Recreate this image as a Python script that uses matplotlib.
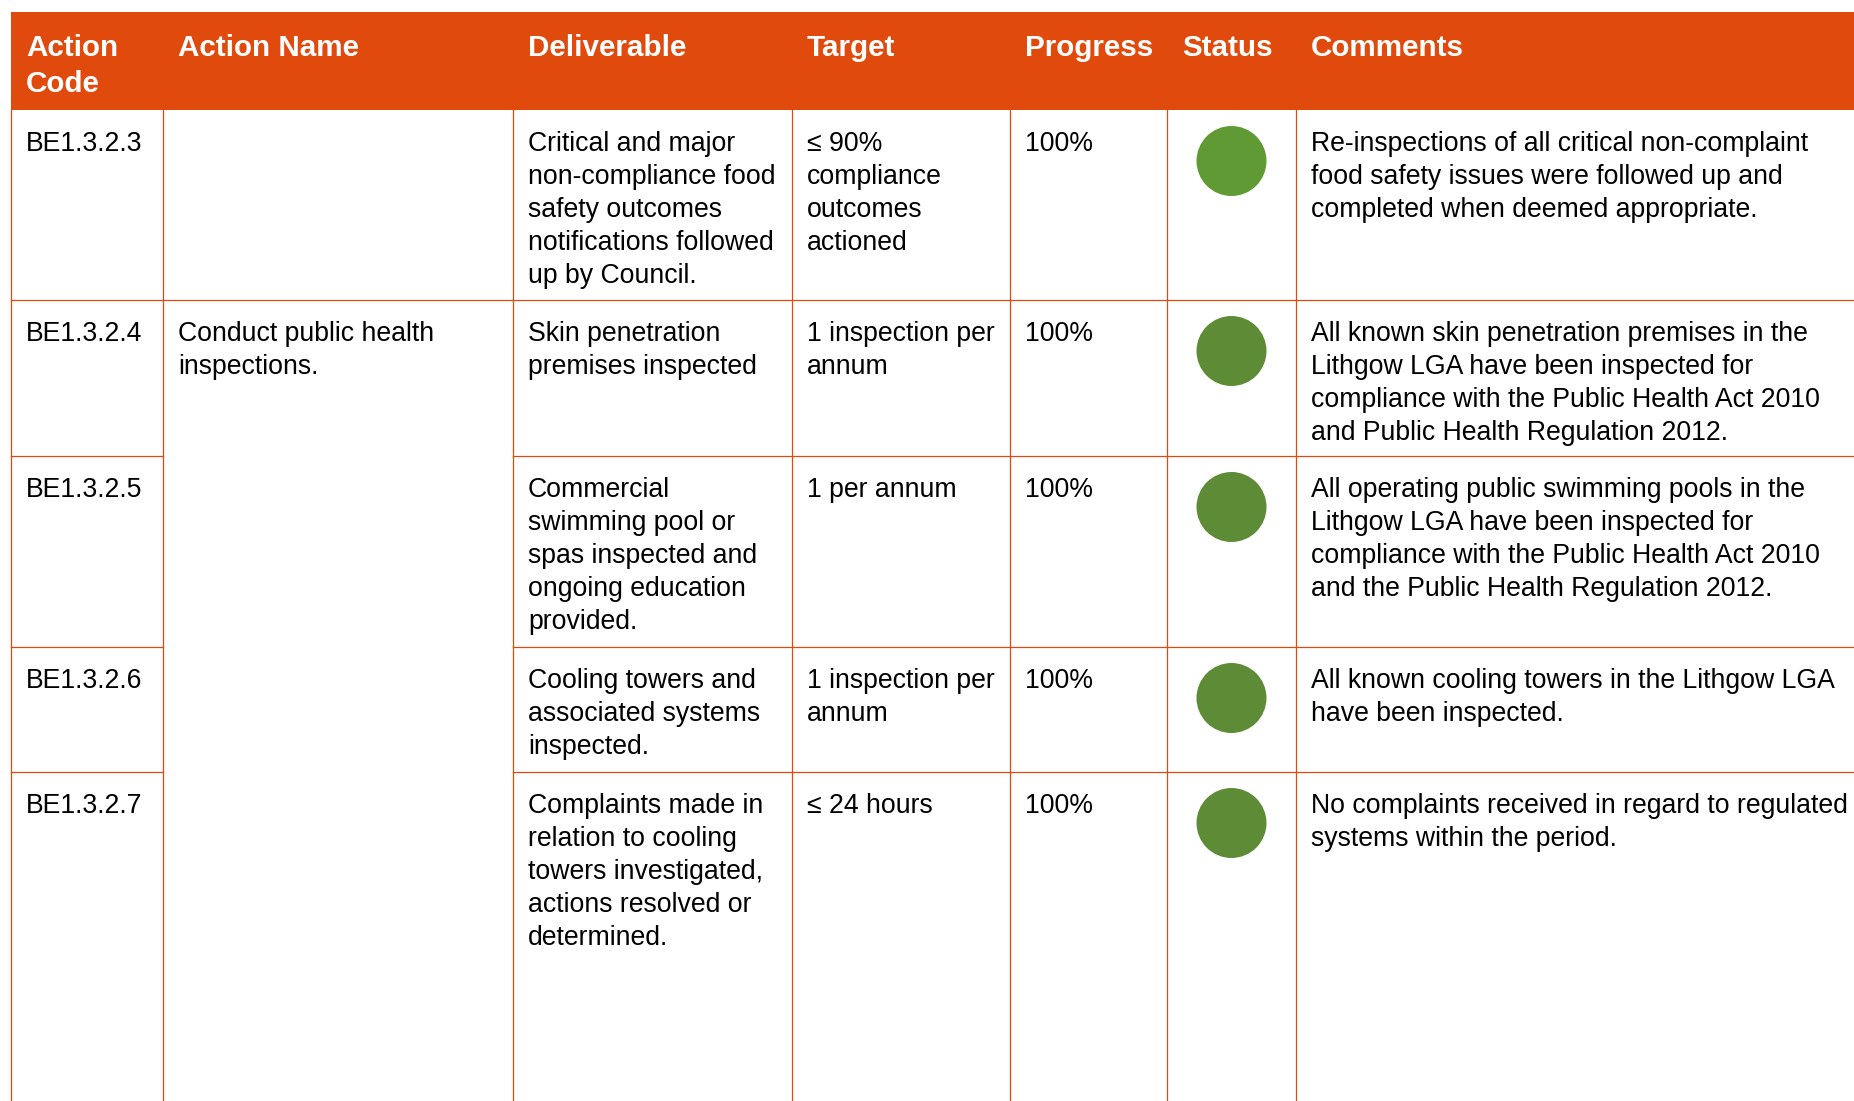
import matplotlib
matplotlib.use("Agg")
import matplotlib.pyplot as plt
from matplotlib.patches import Rectangle, Circle

plt.rcParams["font.family"] = ["Liberation Sans", "DejaVu Sans"]

# table content
headers = [["Action", "Code"], ["Action Name"], ["Deliverable"], ["Target"],
           ["Progress"], ["Status"], ["Comments"]]

codes = ["BE1.3.2.3", "BE1.3.2.4", "BE1.3.2.5", "BE1.3.2.6", "BE1.3.2.7"]

action_name = ["Conduct public health", "inspections."]  # merged over rows 2-5

deliverables = [
    ["Critical and major", "non-compliance food", "safety outcomes",
     "notifications followed", "up by Council."],
    ["Skin penetration", "premises inspected"],
    ["Commercial", "swimming pool or", "spas inspected and",
     "ongoing education", "provided."],
    ["Cooling towers and", "associated systems", "inspected."],
    ["Complaints made in", "relation to cooling", "towers investigated,",
     "actions resolved or", "determined."],
]

targets = [
    ["\u2264 90%", "compliance", "outcomes", "actioned"],
    ["1 inspection per", "annum"],
    ["1 per annum"],
    ["1 inspection per", "annum"],
    ["\u2264 24 hours"],
]

progress = ["100%", "100%", "100%", "100%", "100%"]

status = ["#5f9a34", "#5e8c36", "#5e8c36", "#5e8c36", "#5e8c36"]

comments = [
    ["Re-inspections of all critical non-complaint",
     "food safety issues were followed up and",
     "completed when deemed appropriate."],
    ["All known skin penetration premises in the",
     "Lithgow LGA have been inspected for",
     "compliance with the Public Health Act 2010",
     "and Public Health Regulation 2012."],
    ["All operating public swimming pools in the",
     "Lithgow LGA have been inspected for",
     "compliance with the Public Health Act 2010",
     "and the Public Health Regulation 2012."],
    ["All known cooling towers in the Lithgow LGA",
     "have been inspected."],
    ["No complaints received in regard to regulated",
     "systems within the period."],
]

# layout (pixels)
W, H = 1854, 1101
col_x = [11, 163, 513, 792, 1010, 1167, 1296]
head_top, head_bot = 12, 110
row_tops = [110, 300, 456, 647, 772]
orange = "#e04b0d"
pad = 15
line_h = 33.1
body_size = 19.2
head_size = 21.3

fig = plt.figure(figsize=(W / 100, H / 100), dpi=100)
ax = fig.add_axes([0, 0, 1, 1])
ax.set_xlim(0, W)
ax.set_ylim(H, 0)
ax.axis("off")

# header band
ax.add_patch(Rectangle((col_x[0], head_top), W - col_x[0], head_bot - head_top,
                       facecolor=orange, edgecolor="none"))
for cx, lines in zip(col_x, headers):
    for k, s in enumerate(lines):
        ax.text(cx + pad, 56 + k * 35.5, s, color="white", fontsize=head_size,
                fontweight="bold", va="baseline", ha="left")

# grid lines
for cx in col_x:
    ax.plot([cx, cx], [head_bot, H], color=orange, lw=0.9)
ax.plot([col_x[0], W], [row_tops[1], row_tops[1]], color=orange, lw=0.9)
for y in row_tops[2:]:
    ax.plot([col_x[0], col_x[1]], [y, y], color=orange, lw=0.9)
    ax.plot([col_x[2], W], [y, y], color=orange, lw=0.9)


def cell(col, top, lines):
    for k, s in enumerate(lines):
        ax.text(col_x[col] + pad, top + 41 + k * line_h, s, color="black",
                fontsize=body_size, va="baseline", ha="left")


for i, top in enumerate(row_tops):
    cell(0, top, [codes[i]])
    cell(2, top, deliverables[i])
    cell(3, top, targets[i])
    cell(4, top, [progress[i]])
    cell(6, top, comments[i])
    cx = (col_x[5] + col_x[6]) / 2
    ax.add_patch(Circle((cx, top + 51), 35, facecolor=status[i], edgecolor="none"))

cell(1, row_tops[1], action_name)

fig.savefig("out.png", dpi=100, facecolor="white")
